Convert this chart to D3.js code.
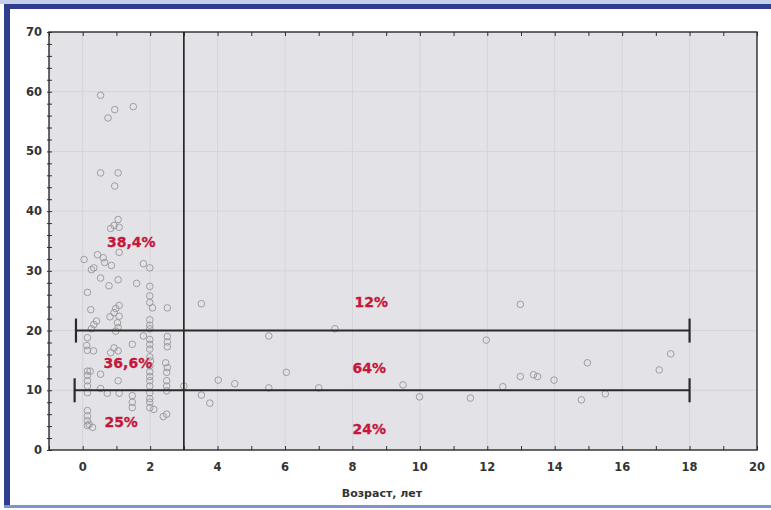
<!DOCTYPE html>
<html>
<head>
<meta charset="utf-8">
<script src="https://cdn.jsdelivr.net/npm/d3@7"></script>
<style>
  body { margin: 0; background: #ffffff; }
  text { font-family: "DejaVu Sans", "Liberation Sans", Arial, sans-serif; }
</style>
</head>
<body>
<script>
var w = 771;
var h = 510;

// Age (years) of each observation
var ages = [
    0.53, 0.95, 0.75, 1.5, 0.53, 1.05, 0.95, 1.05, 0.93, 0.83, 1.08,
    0.04, 0.44, 0.61, 0.65, 0.85, 1.08, 0.33, 0.26, 1.8, 1.99, 0.53, 1.05, 0.78, 1.6, 1.99,
    0.14, 1.99, 1.99, 2.07, 2.51, 0.24, 1.08, 0.98, 0.93, 1.08, 0.81, 0.41, 0.33, 1.03, 1.05,
    1.99, 1.99, 1.99, 0.26, 0.98, 1.8, 2.51, 2.51, 2.51, 1.99, 1.99, 1.99, 0.14, 0.12, 0.14,
    0.32, 0.93, 1.05, 0.83, 1.47, 1.99, 2.01, 2.46, 2.51, 2.49, 1.99, 1.99, 1.99, 0.14, 0.14,
    0.22, 0.53, 0.14, 0.14, 1.05, 2.49, 2.49, 1.99, 1.99, 0.53, 0.14, 0.73, 1.08, 1.47, 1.99,
    2.49, 3.0, 1.99, 1.99, 1.99, 2.11, 1.47, 1.47, 2.49, 2.39, 0.14, 0.14, 0.14, 0.19, 0.29, 0.14,
    3.52, 5.52, 7.48, 11.97, 4.02, 4.51, 6.04, 5.52, 7.0, 9.5, 3.52, 3.77, 9.99, 11.5,
    12.98, 14.97, 17.44, 17.1, 12.98, 13.37, 13.49, 13.98, 12.46, 15.5, 14.79
];
// Measured value for each observation (same order)
var values = [
    59.4, 57.0, 55.6, 57.5, 46.4, 46.4, 44.2, 38.6, 37.6, 37.1, 37.3,
    31.9, 32.7, 32.2, 31.4, 30.9, 33.1, 30.5, 30.2, 31.2, 30.5, 28.8, 28.5, 27.5, 27.9, 27.4,
    26.4, 25.8, 24.7, 23.8, 23.8, 23.5, 24.2, 23.7, 23.0, 22.4, 22.3, 21.6, 21.0, 21.3, 20.5,
    21.8, 20.9, 20.3, 20.3, 19.9, 19.1, 19.0, 18.1, 17.3, 18.5, 17.7, 16.9, 18.8, 17.5, 16.7,
    16.6, 17.1, 16.6, 16.3, 17.7, 15.6, 14.9, 14.6, 13.8, 13.0, 14.1, 13.1, 12.3, 13.2, 12.5,
    13.2, 12.7, 11.6, 10.7, 11.6, 11.6, 10.7, 11.6, 10.7, 10.3, 9.6, 9.5, 9.5, 9.1, 9.6,
    9.9, 10.7, 8.6, 8.0, 7.1, 6.8, 8.0, 7.1, 6.0, 5.6, 6.6, 5.7, 4.9, 4.3, 3.8, 4.1,
    24.5, 19.1, 20.3, 18.4, 11.7, 11.1, 13.0, 10.4, 10.4, 10.9, 9.2, 7.85, 8.9, 8.7,
    24.4, 14.6, 16.1, 13.4, 12.3, 12.6, 12.3, 11.7, 10.6, 9.4, 8.4
];

// Threshold lines: y level, start age, end age
var thresholds = [[20, -0.2, 18], [10, -0.24, 18]];
var ageCut = 3;

// Share labels: text, age, value
var shareText = ["38,4%", "12%", "36,6%", "64%", "25%", "24%"];
var shareX = [1.44, 8.56, 1.34, 8.5, 1.14, 8.5];
var shareY = [34.8, 24.8, 14.6, 13.7, 4.7, 3.5];

var xTicks = [0, 2, 4, 6, 8, 10, 12, 14, 16, 18, 20];
var yTicks = [0, 10, 20, 30, 40, 50, 60, 70];

var pLeft = 49, pRight = 757, pTop = 32, pBottom = 450;

var xScale = d3.scaleLinear().domain([-1, 20]).range([pLeft, pRight]);
var yScale = d3.scaleLinear().domain([0, 70]).range([pBottom, pTop]);

var svg = d3.select("body")
    .append("svg")
    .attr("width", w)
    .attr("height", h);

// Blue frame
svg.append("rect")
    .attr("x", 0).attr("y", 0).attr("width", w).attr("height", h)
    .attr("fill", "#ffffff");
svg.append("rect")
    .attr("x", 0).attr("y", 0).attr("width", w).attr("height", 4)
    .attr("fill", "#c4cfea");
svg.append("rect")
    .attr("x", 4).attr("y", 4).attr("width", w - 4).attr("height", 5)
    .attr("fill", "#2e3d8e");
svg.append("rect")
    .attr("x", 4).attr("y", 4).attr("width", 6).attr("height", 503)
    .attr("fill", "#2e3d8e");
svg.append("rect")
    .attr("x", 4).attr("y", 505).attr("width", w - 4).attr("height", 3)
    .attr("fill", "#8193cc");

// Plot background
svg.append("rect")
    .attr("x", pLeft).attr("y", pTop)
    .attr("width", pRight - pLeft).attr("height", pBottom - pTop)
    .attr("fill", "#e3e3e7");

// Grid
svg.append("g")
    .selectAll("line")
    .data(xTicks.filter(function(d) { return d > -1 && d < 20; }))
    .enter()
    .append("line")
    .attr("x1", function(d) { return xScale(d); })
    .attr("x2", function(d) { return xScale(d); })
    .attr("y1", pTop).attr("y2", pBottom)
    .attr("stroke", "#d4d4da")
    .attr("stroke-width", 1);

svg.append("g")
    .selectAll("line")
    .data(yTicks.filter(function(d) { return d > 0 && d < 70; }))
    .enter()
    .append("line")
    .attr("x1", pLeft).attr("x2", pRight)
    .attr("y1", function(d) { return yScale(d); })
    .attr("y2", function(d) { return yScale(d); })
    .attr("stroke", "#d4d4da")
    .attr("stroke-width", 1);

// Points
svg.append("g")
    .selectAll("circle")
    .data(ages)
    .enter()
    .append("circle")
    .attr("cx", function(d) { return xScale(d); })
    .attr("cy", function(d, i) { return yScale(values[i]); })
    .attr("r", 3.3)
    .attr("fill", "none")
    .attr("stroke", "#96969a")
    .attr("stroke-width", 0.9);

// Axes with inward minor ticks
var xMinor = d3.range(-1, 21, 1);
var yMinor = d3.range(0, 71, 2);

svg.append("g")
    .attr("transform", "translate(0," + pBottom + ")")
    .call(d3.axisTop(xScale).tickValues(xMinor).tickSize(4).tickFormat(""));
svg.append("g")
    .attr("transform", "translate(0," + pTop + ")")
    .call(d3.axisBottom(xScale).tickValues(xMinor).tickSize(4).tickFormat(""));
svg.append("g")
    .attr("transform", "translate(" + pLeft + ",0)")
    .call(d3.axisRight(yScale).tickValues(yMinor).tickSize(3).tickFormat(""));
svg.append("g")
    .attr("transform", "translate(" + pLeft + ",0)")
    .call(d3.axisLeft(yScale).tickValues(yMinor).tickSize(2).tickFormat(""));

svg.selectAll(".domain").remove();
svg.selectAll(".tick line").attr("stroke", "#333").attr("stroke-width", 1);

// Plot border
svg.append("rect")
    .attr("x", pLeft).attr("y", pTop)
    .attr("width", pRight - pLeft).attr("height", pBottom - pTop)
    .attr("fill", "none")
    .attr("stroke", "#2a2a2a")
    .attr("stroke-width", 1.4);

// Tick labels
svg.append("g")
    .selectAll("text")
    .data(xTicks)
    .enter()
    .append("text")
    .attr("x", function(d) { return xScale(d); })
    .attr("y", pBottom + 21)
    .attr("text-anchor", "middle")
    .attr("font-size", 11.5)
    .attr("font-weight", "bold")
    .attr("fill", "#333")
    .text(function(d) { return d; });

svg.append("g")
    .selectAll("text")
    .data(yTicks)
    .enter()
    .append("text")
    .attr("x", 42)
    .attr("y", function(d) { return yScale(d) + 4; })
    .attr("text-anchor", "end")
    .attr("font-size", 11.5)
    .attr("font-weight", "bold")
    .attr("fill", "#333")
    .text(function(d) { return d; });

// Axis title
svg.append("text")
    .attr("x", 382)
    .attr("y", 497)
    .attr("text-anchor", "middle")
    .attr("font-size", 11)
    .attr("font-weight", "bold")
    .attr("fill", "#333")
    .text("Возраст, лет");

// Vertical cut at 3 years
svg.append("line")
    .attr("x1", xScale(ageCut)).attr("x2", xScale(ageCut))
    .attr("y1", pTop).attr("y2", pBottom)
    .attr("stroke", "#1e1e1e")
    .attr("stroke-width", 1.6);

// Threshold bars with end caps
var bars = svg.append("g")
    .selectAll("g")
    .data(thresholds)
    .enter()
    .append("g");

bars.append("line")
    .attr("x1", function(d) { return xScale(d[1]); })
    .attr("x2", function(d) { return xScale(d[2]); })
    .attr("y1", function(d) { return yScale(d[0]); })
    .attr("y2", function(d) { return yScale(d[0]); })
    .attr("stroke", "#2a2a2a")
    .attr("stroke-width", 2);

bars.append("line")
    .attr("x1", function(d) { return xScale(d[1]); })
    .attr("x2", function(d) { return xScale(d[1]); })
    .attr("y1", function(d) { return yScale(d[0]) - 12; })
    .attr("y2", function(d) { return yScale(d[0]) + 12; })
    .attr("stroke", "#2a2a2a")
    .attr("stroke-width", 2.2);

bars.append("line")
    .attr("x1", function(d) { return xScale(d[2]); })
    .attr("x2", function(d) { return xScale(d[2]); })
    .attr("y1", function(d) { return yScale(d[0]) - 12; })
    .attr("y2", function(d) { return yScale(d[0]) + 12; })
    .attr("stroke", "#2a2a2a")
    .attr("stroke-width", 2.2);

// Share labels
svg.append("g")
    .selectAll("text")
    .data(shareText)
    .enter()
    .append("text")
    .attr("x", function(d, i) { return xScale(shareX[i]); })
    .attr("y", function(d, i) { return yScale(shareY[i]) + 5; })
    .attr("text-anchor", "middle")
    .attr("font-size", 14)
    .attr("font-weight", "bold")
    .attr("fill", "#c4173a")
    .attr("stroke", "#c4173a")
    .attr("stroke-width", 0.3)
    .text(function(d) { return d; });
</script>
</body>
</html>
